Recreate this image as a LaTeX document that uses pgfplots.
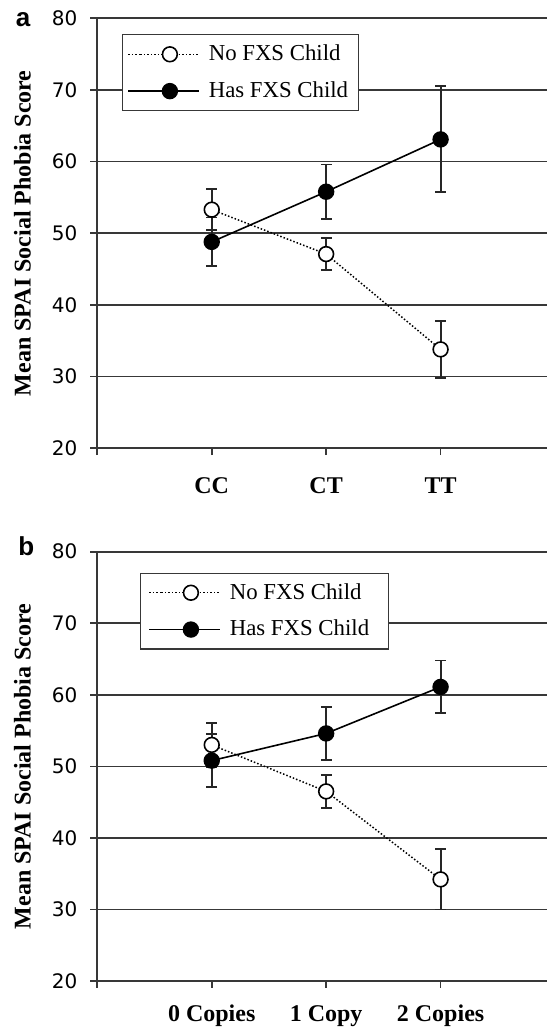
\documentclass[border=0pt]{standalone}
\usepackage{pgfplots}
\pgfplotsset{compat=1.18}
\usepackage{fontspec}
\setmainfont{Liberation Serif}
\newfontfamily\dejavu{DejaVu Sans}
\newfontfamily\arial{Liberation Sans}
\definecolor{axgray}{gray}{0.22}

\pgfplotsset{
  spai/.style={
    scale only axis, width=224.85pt, clip=false,
    xmin=0, xmax=3.93, ymin=20, ymax=80,
    axis lines*=left,
    axis line style={-, line width=0.85pt, axgray},
    xtick={0,1,2,3}, ytick={20,30,...,80},
    tick align=outside, major tick length=3.4pt,
    tick style={line width=0.85pt, axgray},
    ymajorgrids, major grid style={line width=0.85pt, axgray},
    /pgf/number format/assume math mode=true,
    yticklabel style={font=\fontsize{10}{12}\selectfont\dejavu, xshift=-3pt},
    xticklabel style={font=\fontsize{12}{14}\selectfont\bfseries, anchor=base},
    ylabel={Mean SPAI Social Phobia Score},
    ylabel style={font=\fontsize{12}{14}\selectfont\bfseries,
      at={(axis description cs:-0.1668,0.5)}, anchor=center},
    legend cell align=left, reverse legend,
    legend style={anchor=north west, draw=axgray, line width=0.6pt, fill=white,
      inner xsep=2.5pt, inner ysep=5pt, row sep=9pt, column sep=4.3pt,
      font=\fontsize{11.4}{13}\selectfont, nodes={inner sep=0pt}},
    legend image code/.code={
      \path (-6pt,0pt) -- (0pt,0pt);
      \draw[mark repeat=2, mark phase=2, #1] plot coordinates {(0pt,0pt) (14.75pt,0pt) (29.5pt,0pt)};
    },
    error bars/y dir=both, error bars/y explicit,
    error bars/error bar style={solid, line width=0.95pt, black!85},
    error bars/error mark options={rotate=90, mark size=2.7pt, line width=0.95pt, black!85},
  },
  nofxs/.style={black, line width=0.75pt, densely dotted, mark=*, mark size=3.7pt,
    mark options={solid, fill=white, line width=0.8pt}},
  hasfxs/.style={black, line width=0.8pt, mark=*, mark size=3.7pt,
    mark options={solid, fill=black}},
}

\begin{document}
\begin{tikzpicture}
\path[use as bounding box] (0,0) rectangle (273.5pt,516pt);

% panel a: genotype
\begin{axis}[spai, at={(48.65pt,291.85pt)}, anchor=south west, height=215pt,
  xticklabels={,CC,CT,TT}, xticklabel style={yshift=-19pt},
  legend style={at={(axis description cs:0.0549,0.9628)}}]
\addplot[hasfxs] coordinates {(1,48.8) +- (0,3.4) (2,55.8) +- (0,3.8) (3,63.1) +- (0,7.4)};
\addlegendentry{Has FXS Child\hspace*{2.5pt}}
\addplot[nofxs] coordinates {(1,53.3) +- (0,2.9) (2,47.1) +- (0,2.2) (3,33.8) +- (0,4.0)};
\addlegendentry{No FXS Child}
\node[font=\fontsize{13}{15}\selectfont\arial\bfseries, anchor=base] at (axis description cs:-0.165,0.9805) {a};
\end{axis}

% panel b: copies
\begin{axis}[spai, at={(48.65pt,25.5pt)}, anchor=south west, height=214.65pt,
  xticklabels={,0 Copies,1 Copy,2 Copies}, xticklabel style={yshift=-16.8pt},
  legend style={at={(axis description cs:0.095,0.951)}, inner xsep=4pt}]
\addplot[hasfxs] coordinates {(1,50.8) +- (0,3.7) (2,54.6) +- (0,3.7) (3,61.1) +- (0,3.7)};
\addlegendentry{Has FXS Child\hspace*{5.5pt}}
\addplot[nofxs] coordinates {(1,53.0) +- (0,3.1) (2,46.5) +- (0,2.3) (3,34.2) +- (0,4.2)};
\addlegendentry{No FXS Child}
\node[font=\fontsize{13}{15}\selectfont\arial\bfseries, anchor=base] at (axis description cs:-0.158,0.992) {b};
\end{axis}
\end{tikzpicture}
\end{document}
